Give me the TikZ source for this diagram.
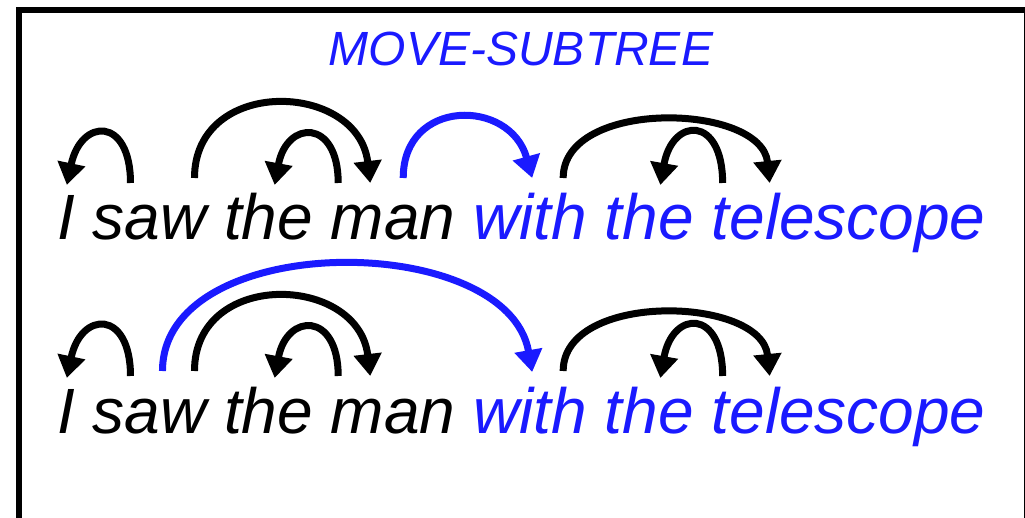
\documentclass[tikz,border=0pt]{standalone}
\usepackage{fontspec}
\setmainfont{Liberation Sans}
\usetikzlibrary{arrows.meta,calc}
\definecolor{movblue}{RGB}{26,26,255}
\begin{document}
\begin{tikzpicture}[x=1pt,y=1pt,
  word/.style={inner sep=0pt, outer sep=0pt, anchor=base west,
    font=\fontsize{64}{70}\selectfont\itshape},
  hl/.style={text=movblue},
  dep/.style={line width=7pt, -{Triangle[length=22pt,width=27pt]}},
  mv/.style={dep, draw=movblue},
  frame/.style={line width=6pt}]
\useasboundingbox (0,0) rectangle (1025,517);
\clip (0,0) rectangle (1025,517);
\draw[frame] (19,507) rectangle (1027,-20);

% heading
\node[font=\fontsize{48}{52}\selectfont\itshape, text=movblue, anchor=base, inner sep=0pt]
  (title) at (521,451) {MOVE-SUBTREE};

% first sentence
\node[word] (a1) at (57,277) {I};
\node[word] (a2) at ([xshift=17.8pt]a1.base east) {saw};
\node[word] (a3) at ([xshift=17.8pt]a2.base east) {the};
\node[word] (a4) at ([xshift=17.8pt]a3.base east) {man};
\node[word,hl] (a5) at ([xshift=17.8pt]a4.base east) {with};
\node[word,hl] (a6) at ([xshift=17.8pt]a5.base east) {the};
\node[word,hl] (a7) at ([xshift=17.8pt]a6.base east) {telescope};

% second sentence
\node[word] (b1) at (57,84) {I};
\node[word] (b2) at ([xshift=17.8pt]b1.base east) {saw};
\node[word] (b3) at ([xshift=17.8pt]b2.base east) {the};
\node[word] (b4) at ([xshift=17.8pt]b3.base east) {man};
\node[word,hl] (b5) at ([xshift=17.8pt]b4.base east) {with};
\node[word,hl] (b6) at ([xshift=17.8pt]b5.base east) {the};
\node[word,hl] (b7) at ([xshift=17.8pt]b6.base east) {telescope};

% dependency arcs, first sentence
\draw[dep] ([xshift=-19pt,yshift=57pt]a2.base) .. controls +(0,67) and +(14,67) .. ([xshift=1pt,yshift=55pt]a1.base);
\draw[dep] ([xshift=45pt,yshift=62pt]a2.base) .. controls +(0,102) and +(-12,102) .. ([xshift=-23pt,yshift=57pt]a4.base);
\draw[dep] ([xshift=-55pt,yshift=57pt]a4.base) .. controls +(0,65) and +(12,65) .. ([xshift=6pt,yshift=55pt]a3.base);
\draw[mv] ([xshift=10pt,yshift=62pt]a4.base) .. controls +(0,80) and +(-22,80) .. ([xshift=2pt,yshift=62pt]a5.base);
\draw[dep] ([xshift=33pt,yshift=62pt]a5.base) .. controls +(0,80) and +(-8,80) .. ([xshift=-79pt,yshift=57pt]a7.base);
\draw[dep] ([xshift=-126pt,yshift=57pt]a7.base) .. controls +(0,68) and +(12,68) .. ([xshift=11pt,yshift=55pt]a6.base);

% dependency arcs, second sentence
\draw[dep] ([xshift=-19pt,yshift=57pt]b2.base) .. controls +(0,67) and +(14,67) .. ([xshift=1pt,yshift=55pt]b1.base);
\draw[mv] ([xshift=13pt,yshift=62pt]b2.base) .. controls +(0,142) and +(-25,142) .. ([xshift=2pt,yshift=61pt]b5.base);
\draw[dep] ([xshift=45pt,yshift=62pt]b2.base) .. controls +(0,102) and +(-12,102) .. ([xshift=-23pt,yshift=57pt]b4.base);
\draw[dep] ([xshift=-55pt,yshift=57pt]b4.base) .. controls +(0,65) and +(12,65) .. ([xshift=6pt,yshift=55pt]b3.base);
\draw[dep] ([xshift=33pt,yshift=62pt]b5.base) .. controls +(0,80) and +(-8,80) .. ([xshift=-79pt,yshift=57pt]b7.base);
\draw[dep] ([xshift=-126pt,yshift=57pt]b7.base) .. controls +(0,68) and +(12,68) .. ([xshift=11pt,yshift=55pt]b6.base);
\end{tikzpicture}
\end{document}
